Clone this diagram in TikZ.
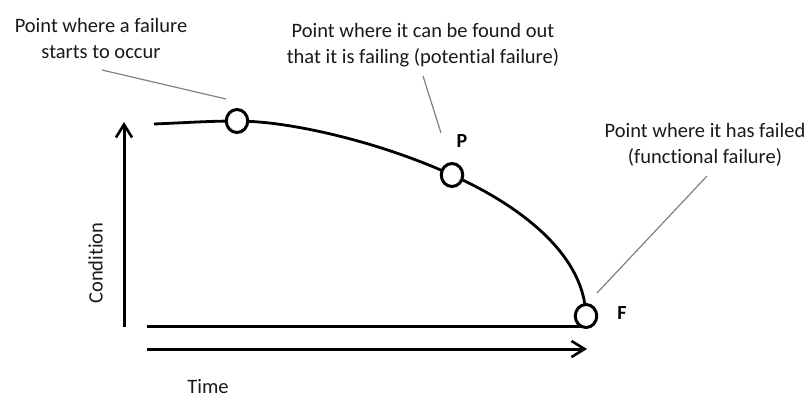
\documentclass[tikz,border=0pt]{standalone}
\usepackage{fontspec}
\setmainfont{Carlito}[Ligatures={NoCommon}]
\usetikzlibrary{arrows.meta,shapes.geometric}
\begin{document}
\begin{tikzpicture}[x=1pt,y=-1pt,
  lbl/.style={align=center,font=\fontsize{20.5}{26}\selectfont,text=black!90,inner sep=0pt},
  letter/.style={font=\fontsize{20}{22}\selectfont\bfseries,inner sep=0pt},
  ring/.style={ellipse,draw=black,fill=white,line width=3pt,minimum width=21.5pt,minimum height=23pt,inner sep=0pt},
  curveline/.style={line width=2.8pt,black},
  leader/.style={line width=1.2pt,black!50},
  axis/.style={line width=3pt,black,-{Straight Barb[length=13pt,width=16pt,line width=2.6pt]}}]
\useasboundingbox (0,0) rectangle (808,398);
% coordinates of curve
\coordinate (s) at (154,124);
\coordinate (c1) at (237,121);
\coordinate (c2) at (452,175);
\coordinate (c3) at (586,316);
\draw[curveline] (s) .. controls (190,122.5) and (210,121) .. (c1)
  .. controls (290,121) and (380,142) .. (c2)
  .. controls (512,202) and (584,250) .. (c3);
% axes
\coordinate (vb) at (124,327);
\coordinate (vt) at (124,122);
\coordinate (hs) at (147,326);
\coordinate (as) at (147,349);
\coordinate (ae) at (587,349);
\node[ring] (A) at (c1) {};
\node[ring] (P) at (c2) {};
\draw[line width=3pt] (hs) -- (586,326);
\node[ring] (F) at (c3) {};
\draw[axis] (vb) -- (vt);
\draw[axis] (as) -- (ae);
% labels
\node[lbl] (t1) at (101,38.5) {Point where a failure\\starts to occur};
\node[lbl] (t2) at (423,45.5) {Point where it can be found out\\that it is failing (potential failure)};
\node[lbl] (t3) at (705,145) {Point where it has failed\\(functional failure)};
\node[letter] (pl) at (462,141) {P};
\node[letter] (fl) at (622,313) {F};
\node[lbl,text depth=0pt] (time) at (208,386.5) {Time};
\node[lbl,rotate=90] (cond) at (95.5,263) {Condition};
% leader lines
\coordinate (l1a) at (102,70);
\coordinate (l1b) at (226,99);
\coordinate (l2a) at (423,76);
\coordinate (l2b) at (441,133);
\coordinate (l3a) at (707,176);
\coordinate (l3b) at (597,293);
\draw[leader] (l1a) -- (l1b);
\draw[leader] (l2a) -- (l2b);
\draw[leader] (l3a) -- (l3b);
\end{tikzpicture}
\end{document}
